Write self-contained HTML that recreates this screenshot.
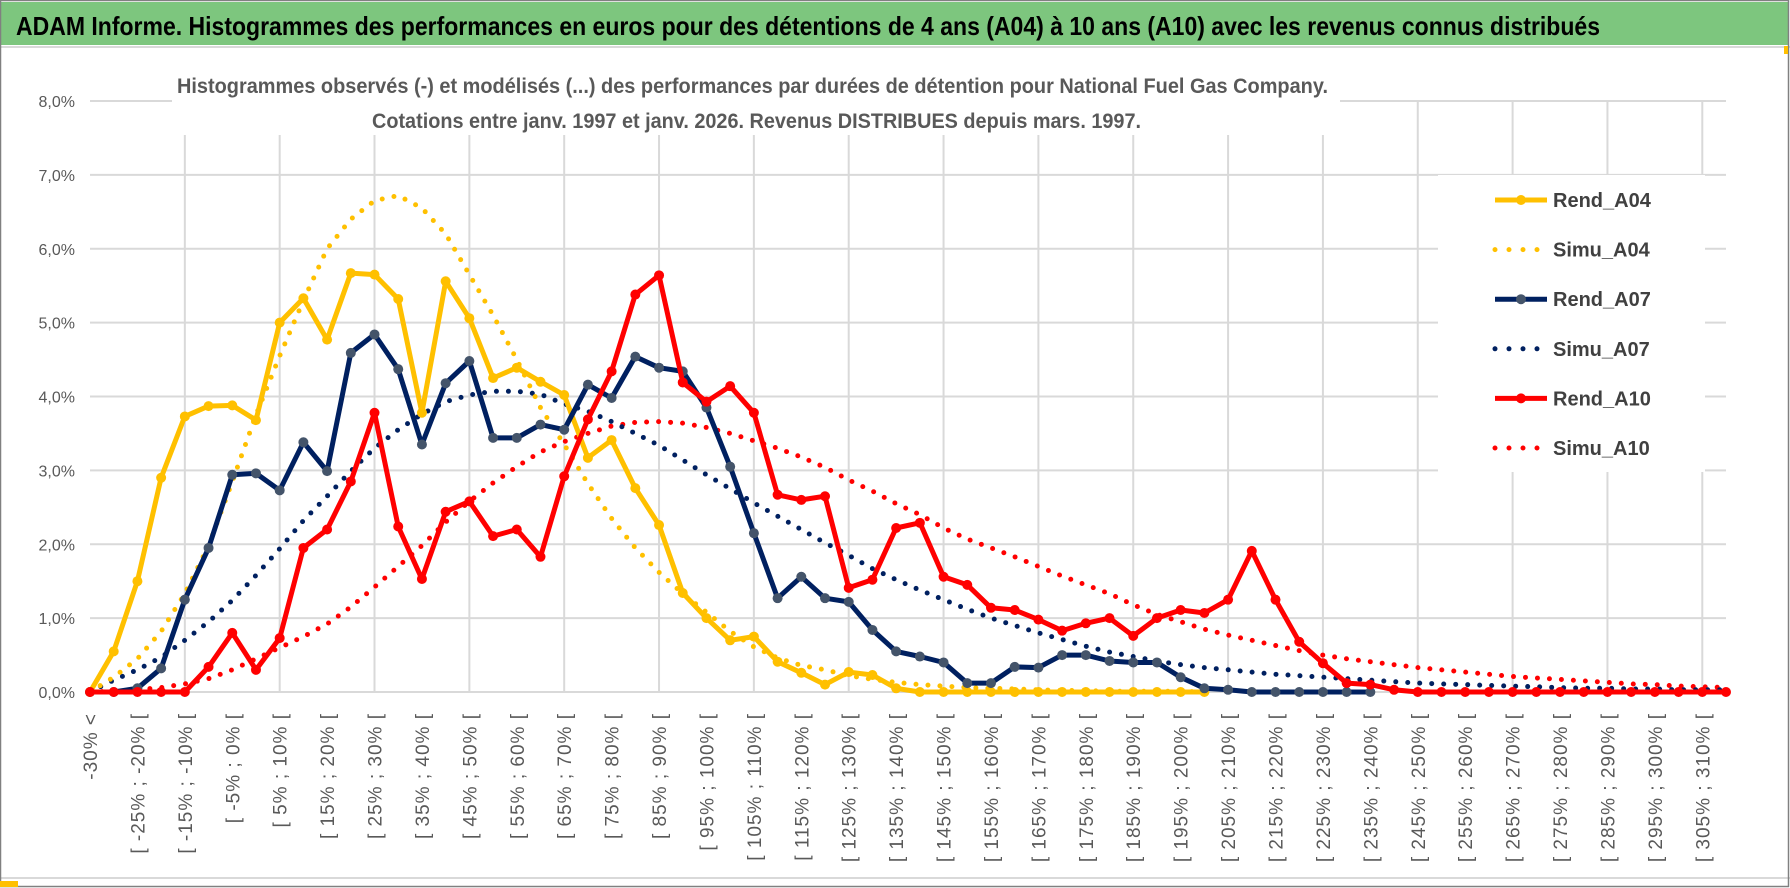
<!DOCTYPE html>
<html><head><meta charset="utf-8"><style>
html,body{margin:0;padding:0;background:#fff;}
svg{display:block;}
text{font-family:"Liberation Sans",sans-serif;}
</style></head><body>
<svg id="chart" width="1790" height="888" viewBox="0 0 1790 888" xmlns="http://www.w3.org/2000/svg">
<rect x="0" y="0" width="1790" height="888" fill="#fff"/>
<rect x="1" y="2" width="1787" height="43" fill="#7DC67E"/>
<text x="16" y="35" font-size="26" font-weight="bold" textLength="1584" lengthAdjust="spacingAndGlyphs" fill="#000">ADAM Informe. Histogrammes des performances en euros pour des détentions de 4 ans (A04) à 10 ans (A10) avec les revenus connus distribués</text>
<line x1="0" y1="47" x2="1790" y2="47" stroke="#D9D9D9" stroke-width="2"/>
<line x1="0" y1="878" x2="1790" y2="878" stroke="#D9D9D9" stroke-width="2"/>
<rect x="0.5" y="0.5" width="1788" height="886" fill="none" stroke="#808080" stroke-width="1.5"/>
<rect x="0" y="881" width="18" height="6" fill="#FFC000"/>
<rect x="1784" y="46" width="4" height="8" fill="#FFC000"/>
<g id="grid"></g>
<rect x="172" y="62" width="1168" height="73" fill="#fff"/>
<text x="177" y="93" font-size="21" font-weight="bold" fill="#595959" textLength="1151" lengthAdjust="spacingAndGlyphs">Histogrammes observés (-) et modélisés (...) des performances par durées de détention pour National Fuel Gas Company.</text>
<text x="372" y="128" font-size="21" font-weight="bold" fill="#595959" textLength="769" lengthAdjust="spacingAndGlyphs">Cotations entre janv. 1997 et janv. 2026. Revenus DISTRIBUES depuis mars. 1997.</text>
<g id="yaxis"></g>
<g id="xaxis"></g>
<g id="series"></g>
<g id="legend"></g>
</svg>
<script>
const yTicks = [0,1,2,3,4,5,6,7,8];
const yTickLabels = ["0,0%","1,0%","2,0%","3,0%","4,0%","5,0%","6,0%","7,0%","8,0%"];
const categories = ["-30% <"];
for (let a = -30; a <= 310; a += 5) { categories.push("[ " + a + "% ; " + (a + 5) + "% ["); }
const rendA04 = [0,0.55,1.5,2.9,3.73,3.87,3.88,3.68,5.0,5.33,4.77,5.67,5.65,5.32,3.78,5.56,5.06,4.25,4.39,4.2,4.02,3.17,3.41,2.76,2.26,1.34,1.0,0.7,0.75,0.41,0.26,0.1,0.27,0.23,0.05,0,0,0,0,0,0,0,0,0,0,0,0,0];
const simuA04 = [0,0.2,0.45,0.82,1.33,1.98,2.85,3.75,4.55,5.3,6.0,6.4,6.65,6.72,6.55,6.2,5.65,5.1,4.5,3.85,3.35,2.82,2.35,1.95,1.62,1.33,1.08,0.82,0.61,0.46,0.36,0.3,0.22,0.17,0.13,0.1,0.08,0.06,0.05,0.04,0.03,0.02,0.02,0.01,0.01,0.01,0.01,0];
const rendA07 = [0,0,0.05,0.32,1.25,1.95,2.94,2.96,2.73,3.38,2.99,4.59,4.84,4.37,3.35,4.18,4.48,3.44,3.44,3.62,3.55,4.16,3.98,4.54,4.39,4.34,3.85,3.05,2.15,1.27,1.56,1.27,1.22,0.84,0.55,0.48,0.4,0.12,0.12,0.34,0.33,0.5,0.5,0.42,0.4,0.4,0.2,0.05,0.03,0,0,0,0,0,0];
const simuA07 = [0,0.16,0.3,0.47,0.7,0.95,1.24,1.58,1.94,2.32,2.65,2.99,3.3,3.55,3.76,3.93,4.02,4.07,4.07,4.03,3.9,3.8,3.66,3.5,3.34,3.14,2.94,2.75,2.56,2.38,2.2,2.02,1.85,1.67,1.52,1.38,1.25,1.12,1.0,0.9,0.8,0.71,0.62,0.54,0.48,0.42,0.37,0.33,0.3,0.27,0.24,0.22,0.2,0.18,0.16,0.14,0.12,0.11,0.1,0.09,0.08,0.07,0.06,0.05,0.05,0.04,0.04,0.03,0.03,0.03];
const rendA10 = [0,0,0,0,0,0.34,0.8,0.3,0.73,1.95,2.2,2.85,3.78,2.24,1.53,2.44,2.58,2.11,2.2,1.83,2.92,3.69,4.34,5.38,5.64,4.19,3.93,4.14,3.78,2.67,2.6,2.65,1.41,1.52,2.22,2.29,1.56,1.45,1.14,1.11,0.98,0.83,0.93,1.0,0.76,1.0,1.11,1.07,1.25,1.91,1.25,0.68,0.39,0.12,0.1,0.03,0,0,0,0,0,0,0,0,0,0,0,0,0,0];
const simuA10 = [0,0.01,0.03,0.06,0.11,0.18,0.3,0.45,0.6,0.75,0.92,1.15,1.42,1.7,1.98,2.3,2.58,2.83,3.05,3.25,3.39,3.5,3.6,3.65,3.66,3.64,3.58,3.5,3.4,3.3,3.18,3.04,2.87,2.72,2.55,2.4,2.22,2.07,1.95,1.83,1.7,1.57,1.45,1.33,1.18,1.05,0.95,0.85,0.77,0.7,0.63,0.56,0.5,0.45,0.41,0.37,0.33,0.3,0.27,0.24,0.21,0.19,0.17,0.15,0.13,0.11,0.1,0.08,0.07,0.06];

const NS = "http://www.w3.org/2000/svg";
const X0 = 90, X1 = 1726, Y0 = 692, Y8 = 101;
function xPos(i){ return X0 + i * (X1 - X0) / (categories.length - 1); }
function yPos(v){ return Y0 - v * (Y0 - Y8) / 8; }
function mk(tag, attrs, parent){ const e = document.createElementNS(NS, tag); for (const k in attrs) e.setAttribute(k, attrs[k]); parent.appendChild(e); return e; }

const grid = document.getElementById('grid');
yTicks.forEach(v => {
  const l = mk('line', {x1:X0, x2:X1, y1:yPos(v), y2:yPos(v), stroke:'#D9D9D9', 'stroke-width':2}, grid);
  
  
});
for (let i = 4; i < categories.length; i += 4) {
  const l = mk('line', {x1:xPos(i), x2:xPos(i), y1:Y8, y2:Y0, stroke:'#D9D9D9', 'stroke-width':2}, grid);
  
  
}
const yax = document.getElementById('yaxis');
yTicks.forEach((v, k) => {
  const t = mk('text', {x:75, y:yPos(v) + 6, 'text-anchor':'end', 'font-size':16, fill:'#595959'}, yax);
  t.textContent = yTickLabels[k];
  
  
});
const xax = document.getElementById('xaxis');
categories.forEach((c, i) => {
  if (i !== 0 && i % 2 === 1) return;
  const x = xPos(i) + 7, y = 713;
  const t = mk('text', {x:x, y:y, 'text-anchor':'end', 'font-size':19, 'letter-spacing':1, fill:'#595959', transform:'rotate(-90 ' + x + ' ' + y + ')'}, xax);
  t.textContent = c;
  
  
});

const seriesG = document.getElementById('series');
function pts(arr){ return arr.map((v, i) => xPos(i).toFixed(1) + ',' + yPos(v).toFixed(1)).join(' '); }
function dotted(arr, color, name){
  const p = mk('polyline', {points:pts(arr), fill:'none', stroke:color, 'stroke-width':5, 'stroke-linecap':'round', 'stroke-dasharray':'0 12'}, seriesG);
  
  
}
function solid(arr, color, mcolor, name){
  const p = mk('polyline', {points:pts(arr), fill:'none', stroke:color, 'stroke-width':5, 'stroke-linejoin':'round'}, seriesG);
  
  
  arr.forEach((v, i) => {
    const c = mk('circle', {cx:xPos(i), cy:yPos(v), r:5, fill:mcolor}, seriesG);
    
    
  });
}
dotted(simuA10, '#FF0000', 'simu-a10-line');
dotted(simuA07, '#002060', 'simu-a07-line');
dotted(simuA04, '#FFC000', 'simu-a04-line');
solid(rendA04, '#FFC000', '#FFC000', 'rend-a04-line');
solid(rendA07, '#002060', '#44546A', 'rend-a07-line');
solid(rendA10, '#FF0000', '#FF0000', 'rend-a10-line');

const leg = document.getElementById('legend');
const lb = mk('rect', {x:1438, y:175, width:267, height:297, fill:'#fff'}, leg);


const legNames = ["Rend_A04","Simu_A04","Rend_A07","Simu_A07","Rend_A10","Simu_A10"];
const legColors = ['#FFC000','#FFC000','#002060','#002060','#FF0000','#FF0000'];
const legMarkers = ['#FFC000',null,'#44546A',null,'#FF0000',null];
legNames.forEach((n, k) => {
  const y = 200 + k * 49.6;
  const g = mk('g', {}, leg);
  
  
  if (legMarkers[k]) {
    mk('line', {x1:1495, x2:1547, y1:y, y2:y, stroke:legColors[k], 'stroke-width':5}, g);
    mk('circle', {cx:1521, cy:y, r:5, fill:legMarkers[k]}, g);
  } else {
    mk('line', {x1:1495, x2:1547, y1:y, y2:y, stroke:legColors[k], 'stroke-width':5, 'stroke-linecap':'round', 'stroke-dasharray':'0 14'}, g);
  }
  const t = mk('text', {x:1553, y:y + 7, 'font-size':20, 'font-weight':'bold', fill:'#404040'}, g);
  t.textContent = n;
});
</script>
</body></html>
